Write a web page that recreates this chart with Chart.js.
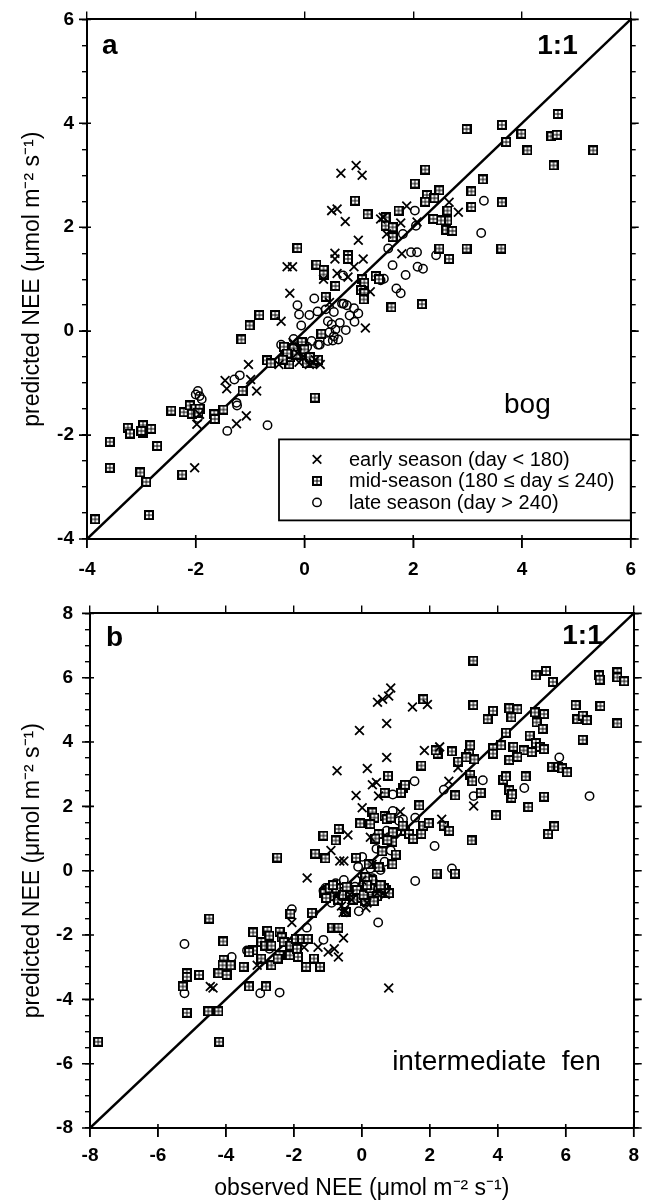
<!DOCTYPE html>
<html>
<head>
<meta charset="utf-8">
<script src="https://cdn.jsdelivr.net/npm/chart.js@4.4.1/dist/chart.umd.min.js"></script>
<style>
  body { margin: 0; background: #fff; width: 646px; height: 1202px; overflow: hidden; }
  .panel { position: absolute; left: 0; width: 646px; }
  #wrapA { top: 0; height: 590px; }
  #wrapB { top: 590px; height: 612px; }
</style>
</head>
<body>
<div class="panel" id="wrapA"><canvas id="bogChart"></canvas></div>
<div class="panel" id="wrapB"><canvas id="fenChart"></canvas></div>
<script>
const FONT = '"Liberation Sans", Arial, Helvetica, sans-serif';

// --- data: [observed, predicted] ---
const seasonLabels = ["early season (day < 180)", "mid-season (180 \u2264 day \u2264 240)", "late season (day > 240)"];
const bogTicks = [-4, -2, 0, 2, 4, 6];
const fenTicks = [-8, -6, -4, -2, 0, 2, 4, 6, 8];

const bogEarly = [[0.67,3.04],[0.95,3.19],[1.06,3.0],[0.50,2.32],[0.60,2.35],[0.75,2.11],[0.99,1.75],[1.45,2.19],[1.40,2.16],
  [1.88,2.41],[1.77,2.08],[2.07,2.10],[2.66,2.48],[2.83,2.29],[1.51,1.87],[1.79,1.49],[0.56,1.50],[0.56,1.39],[-0.32,1.24],
  [-0.22,1.24],[0.35,1.0],[0.60,1.11],[0.91,1.24],[1.08,1.39],[-0.27,0.73],[1.21,0.76],[0.80,1.04],[0.46,0.55],[1.12,0.06],
  [-1.03,-0.64],[-0.47,-0.64],[0.29,-0.64],[0.16,-0.61],[0.09,-0.64],[-1.46,-0.95],[-1.43,-1.11],[-0.99,-0.93],[-0.88,-1.15],
  [-1.93,-1.60],[-1.98,-1.79],[-1.25,-1.78],[-1.07,-1.63],[-2.02,-2.63],[-0.43,0.19],[-0.21,-0.22],[-0.13,-0.42],[-0.02,-0.48],
  [0.2,-0.55],[-0.1,-0.6]];

const bogMid = [[4.66,4.18],[2.98,3.89],[3.63,3.97],[3.99,3.80],[3.71,3.64],[4.10,3.48],[4.54,3.75],[4.64,3.78],[5.31,3.48],
  [4.58,3.19],[2.22,3.11],[2.03,2.84],[3.28,2.92],[3.07,2.69],[3.07,2.39],[3.63,2.48],[2.25,2.62],[2.48,2.71],[2.22,2.49],
  [2.39,2.56],[2.63,2.32],[2.63,2.13],[2.51,2.13],[2.37,2.16],[2.61,1.95],[2.72,1.93],[2.48,1.59],[2.66,1.39],[2.98,1.59],
  [3.62,1.59],[1.73,2.32],[1.49,2.19],[1.49,2.03],[1.62,2.00],[1.62,1.81],[1.16,2.25],[0.93,2.51],[-0.13,1.60],[0.22,1.28],
  [0.35,1.18],[0.35,1.09],[0.80,1.46],[0.80,1.39],[0.57,0.87],[1.06,1.00],[1.10,0.93],[1.04,0.79],[1.10,0.73],[1.09,0.61],
  [0.39,0.66],[1.31,1.06],[1.37,1.00],[1.60,0.46],[2.16,0.52],[-0.83,0.31],[-0.54,0.31],[-1.01,0.11],[-1.16,-0.16],[0.31,-0.05],
  [-0.69,-0.56],[-0.62,-0.62],[-1.14,-1.15],[0.19,-1.28],[-2.45,-1.53],[-2.22,-1.56],[-2.11,-1.43],[-2.01,-1.49],[-1.93,-1.49],
  [-2.07,-1.59],[-1.95,-1.57],[-1.66,-1.60],[-1.65,-1.69],[-1.49,-1.51],[-3.25,-1.86],[-3.21,-1.97],[-2.97,-1.81],[-2.97,-1.96],
  [-2.82,-1.88],[-3.0,-1.92],[-3.58,-2.13],[-2.71,-2.21],[-3.58,-2.63],[-3.02,-2.72],[-2.91,-2.90],[-2.25,-2.76],[-2.86,-3.54],
  [-3.85,-3.62],[-0.28,-0.64],[0.09,-0.54],[-0.05,-0.21],[-0.20,-0.33],[-0.26,-0.50],[0.04,-0.62],[0.16,-0.62],[-0.38,-0.30],
  [-0.32,-0.43],[-0.15,-0.45],[0.0,-0.35],[0.1,-0.5],[-0.4,-0.55],[0.25,-0.55]];

const bogLate = [[3.30,2.51],[3.25,1.89],[2.03,2.32],[2.05,2.03],[1.81,1.87],[1.54,1.59],[1.96,1.52],[2.07,1.52],[2.42,1.46],
  [1.62,1.27],[2.08,1.24],[2.18,1.20],[1.86,1.08],[1.46,1.01],[1.40,0.98],[1.69,0.82],[1.77,0.73],[0.71,1.07],[0.18,0.63],
  [-0.13,0.50],[0.69,0.53],[0.78,0.50],[0.91,0.44],[0.99,0.34],[0.09,0.31],[0.24,0.38],[-0.10,0.32],[-0.06,0.11],[0.39,0.42],
  [0.54,0.37],[0.72,0.53],[0.43,0.19],[0.50,0.13],[0.57,0.03],[0.65,0.16],[0.76,0.02],[0.54,-0.10],[0.62,-0.16],[0.43,-0.19],
  [0.13,-0.19],[0.28,-0.26],[-0.43,-0.26],[-0.36,-0.42],[-0.28,-0.35],[-0.06,-0.29],[0.01,-0.42],[-1.29,-0.93],[-1.19,-0.85],
  [-1.25,-1.38],[-1.24,-1.43],[-1.96,-1.15],[-1.93,-1.25],[-1.89,-1.31],[-2.0,-1.22],[-1.96,-1.67],[-1.42,-1.92],[-0.68,-1.81],
  [0.92,0.18],[0.83,0.30],[0.46,-0.02],[0.52,-0.18],[0.25,-0.26],[-0.2,-0.15],[-0.15,-0.45],[0.05,-0.3]];

const fenEarly = [[0.46,5.24],[0.61,5.33],[0.79,5.43],[0.85,5.68],[1.49,5.09],[1.93,5.17],[0.73,4.58],[-0.07,4.36],[0.73,3.52],
  [1.84,3.74],[2.29,3.85],[-0.73,3.11],[0.16,3.18],[0.31,2.67],[0.43,2.74],[-0.17,2.34],[0.49,2.32],[0.01,1.96],[2.56,2.78],
  [2.83,3.20],[3.29,2.01],[2.35,1.60],[-0.41,1.11],[-0.91,0.63],[-0.65,0.30],[-0.53,0.30],[-1.61,-0.23],[0.25,1.04],[1.13,1.83],
  [-4.46,-3.60],[-4.38,-3.65],[-3.08,-2.94],[-2.06,-1.61],[-1.70,-2.38],[-1.29,-2.38],[-0.99,-2.53],[-0.81,-2.43],[-0.69,-2.68],
  [-0.54,-2.09],[0.12,-1.15],[0.15,-1.0],[-0.51,-1.20],[0.79,-3.65],[0.69,-0.74],[-0.6,-1.1],[-0.3,-0.9],[0.0,-0.3],[0.3,0.2],
  [-0.75,-0.8],[-0.35,-0.75],[0.45,-0.7],[-0.5,-1.25],[-0.55,-1.3]];

const fenMid = [[3.28,6.53],[5.12,6.07],[5.42,6.21],[5.62,5.87],[6.98,6.07],[7.0,5.94],[7.52,6.17],[7.52,6.01],[7.72,5.89],
  [3.28,5.15],[1.81,5.33],[3.70,4.71],[3.86,4.97],[4.34,5.05],[4.58,5.02],[4.40,4.77],[5.09,4.92],[5.36,4.87],[5.14,4.61],
  [5.32,4.41],[6.29,5.15],[6.34,4.71],[6.50,4.82],[6.62,4.68],[7.02,5.12],[7.52,4.58],[6.50,4.07],[4.24,4.29],[4.94,4.20],
  [5.12,3.97],[5.24,3.85],[5.36,3.78],[4.76,3.74],[5.0,3.69],[4.46,3.85],[4.34,3.44],[4.58,3.54],[4.10,3.90],[3.86,3.80],
  [3.86,3.64],[3.19,3.90],[3.16,3.64],[3.31,3.46],[3.07,3.52],[2.65,3.71],[2.23,3.64],[2.17,3.74],[1.75,3.27],[2.83,3.39],
  [5.60,3.23],[5.78,3.23],[5.90,3.18],[6.04,3.06],[3.19,2.98],[3.25,2.78],[4.16,2.83],[4.24,2.93],[4.82,2.93],[4.34,2.50],
  [4.40,2.27],[4.42,2.37],[3.50,2.42],[2.75,2.34],[5.36,2.30],[4.90,1.98],[3.95,1.72],[5.48,1.14],[5.66,1.38],[3.23,0.94],
  [0.77,2.95],[0.67,2.42],[1.21,2.58],[1.27,2.67],[1.15,2.42],[1.69,2.03],[0.31,1.81],[0.37,1.65],[-0.05,1.47],[0.25,1.45],
  [0.67,1.70],[0.73,1.60],[0.85,1.65],[0.49,1.14],[0.91,1.19],[1.27,1.24],[1.39,1.14],[1.51,0.99],[1.81,1.40],[1.97,1.48],
  [1.75,1.14],[2.41,1.40],[2.57,1.24],[-1.13,1.09],[-0.77,0.94],[-0.68,1.30],[-1.37,0.53],[-1.07,0.38],[-2.49,0.41],[-0.17,0.40],
  [2.20,-0.09],[2.74,-0.09],
  [-4.49,-1.49],[-4.08,-2.20],[-3.20,-1.92],[-2.78,-1.87],[-2.72,-2.02],[-2.42,-1.90],[-2.36,-2.07],[-2.30,-2.22],[-2.96,-2.22],
  [-2.84,-2.33],[-2.66,-2.33],[-3.20,-2.48],[-3.32,-2.53],[-2.96,-2.73],[-2.66,-2.94],[-2.42,-2.63],[-2.48,-2.73],[-2.12,-2.63],
  [-2.10,-2.33],[-1.94,-2.12],[-1.76,-2.12],[-1.59,-2.12],[-1.91,-2.43],[-1.88,-2.68],[-1.64,-2.99],[-1.41,-2.73],[-1.23,-2.99],
  [-0.87,-1.77],[-0.69,-1.77],[-0.47,-1.28],[-1.47,-1.31],[-2.10,-1.34],[-4.07,-2.77],[-4.10,-2.94],[-3.86,-2.94],[-5.15,-3.19],
  [-5.15,-3.30],[-4.79,-3.24],[-4.22,-3.19],[-3.98,-3.24],[-3.48,-2.99],[-5.27,-3.60],[-3.32,-3.60],[-2.82,-3.60],[-5.15,-4.42],
  [-4.52,-4.37],[-4.22,-4.37],[-4.20,-5.32],[-7.76,-5.32],
  [-1.0,-0.6],[-0.8,-0.7],[-0.6,-0.65],[-0.4,-0.6],[-0.2,-0.7],[0.0,-0.6],[0.2,-0.65],[0.4,-0.6],[-0.9,-0.8],[-0.5,-0.8],
  [-0.1,-0.85],[0.3,-0.75],[0.6,-0.7],[0.1,-0.95],[-0.7,-0.9],[0.05,-0.4],[0.3,-0.3],[0.5,0.1],[0.6,0.6],[0.9,0.9],[0.4,1.0],
  [0.1,-0.2],[0.7,-0.6],[-1.1,-0.7],[-0.95,-0.55],[-0.75,-0.55],[-0.55,-0.75],[-0.35,-0.7],[-0.15,-0.6],[0.05,-0.75],
  [0.25,-0.55],[0.45,-0.8],[0.65,-0.55],[0.8,-0.7],[-1.05,-0.85],[-0.25,-0.9],[0.35,-0.95],[-0.45,-0.5],[0.15,-0.45],
  [0.55,-0.45],[-0.85,-0.45],[0.9,0.2],[1.0,0.5],[0.75,0.95],[1.2,1.4],[0.2,0.2]];

const fenLate = [[5.81,3.52],[4.78,2.57],[6.70,2.32],[3.56,2.81],[3.29,2.32],[2.41,2.52],[1.55,2.78],[0.91,2.37],[0.91,1.86],
  [1.09,1.55],[1.21,1.60],[1.57,1.65],[0.73,1.24],[0.79,1.04],[0.43,0.68],[0.85,0.63],[0.67,0.28],[2.14,0.77],[2.65,0.07],
  [1.57,-0.32],[0.01,0.43],[-0.11,0.12],[0.25,0.07],[0.55,0.02],[-0.53,-0.29],[-0.77,-0.39],[-1.01,-0.59],[-1.07,-0.54],
  [0.31,-0.23],[0.37,-0.39],[-5.22,-2.28],[-5.22,-3.81],[-3.83,-2.68],[-3.38,-2.48],[-2.99,-3.81],[-2.42,-3.79],[-2.06,-1.20],
  [-1.62,-1.77],[-1.13,-2.15],[-1.43,-1.31],[-0.89,-1.0],[-0.09,-1.26],[0.48,-1.61],[-2.72,-2.43],[-1.13,-0.62],[-1.05,-0.59],
  [-0.95,-0.75],[-0.6,-0.55],[-0.2,-0.5],[0.1,-0.6],[0.5,-0.55],[0.2,-0.3]];

// square-with-cross marker used for mid-season
function makeGridSquare() {
  const c = document.createElement("canvas");
  c.width = 10; c.height = 10;
  const g = c.getContext("2d");
  g.fillStyle = "#000";
  g.fillRect(0, 0, 10, 10);
  g.fillStyle = "#fff";
  [[2, 2], [5.5, 2], [2, 5.5], [5.5, 5.5]].forEach(p => g.fillRect(p[0], p[1], 2.5, 2.5));
  return c;
}
const gridSquare = makeGridSquare();

const toXY = arr => arr.map(p => ({ x: p[0], y: p[1] }));

// major ticks cross the left/bottom frame, stick out a bit further than minor ones
const majorTickPlugin = {
  id: "majorTicks",
  afterDraw(chart, args, opts) {
    const { ctx, chartArea: a, scales } = chart;
    ctx.save();
    ctx.strokeStyle = "#000";
    ctx.lineWidth = 1.6;
    ctx.beginPath();
    opts.ticks.forEach(v => {
      const px = scales.x.getPixelForValue(v);
      ctx.moveTo(px, a.bottom - 4); ctx.lineTo(px, a.bottom + 9);
      const py = scales.y.getPixelForValue(v);
      ctx.moveTo(a.left - 8, py); ctx.lineTo(a.left + 4, py);
      ctx.moveTo(a.right, py); ctx.lineTo(a.right + 8, py);
    });
    ctx.stroke();
    ctx.restore();
  }
};

const textPlugin = {
  id: "panelText",
  afterDraw(chart, args, opts) {
    const { ctx, chartArea: a } = chart;
    ctx.save();
    ctx.fillStyle = "#000";
    ctx.textBaseline = "alphabetic";
    opts.items.forEach(t => {
      ctx.font = t.font;
      ctx.textAlign = t.align;
      const x = t.fromRight ? a.right - t.dx : a.left + t.dx;
      const y = t.fromBottom ? a.bottom - t.dy : a.top + t.dy;
      ctx.fillText(t.text, x, y);
    });
    ctx.restore();
  }
};

const legendPlugin = {
  id: "seasonLegend",
  afterDraw(chart, args, opts) {
    if (!opts.show) return;
    const { ctx, chartArea: a } = chart;
    const x0 = a.left + 192, y0 = a.top + 420, x1 = a.right, y1 = a.top + 501;
    ctx.save();
    ctx.fillStyle = "#fff";
    ctx.fillRect(x0, y0, x1 - x0, y1 - y0);
    ctx.strokeStyle = "#000";
    ctx.lineWidth = 1.8;
    ctx.strokeRect(x0, y0, x1 - x0, y1 - y0);
    ctx.font = "20px " + FONT;
    ctx.fillStyle = "#000";
    ctx.textBaseline = "middle";
    ctx.textAlign = "left";
    seasonLabels.forEach((lab, i) => {
      const sx = x0 + 38, sy = y0 + 20 + i * 21.5;
      ctx.lineWidth = 1.7;
      if (i === 0) {
        ctx.beginPath();
        ctx.moveTo(sx - 4.3, sy - 4.3); ctx.lineTo(sx + 4.3, sy + 4.3);
        ctx.moveTo(sx - 4.3, sy + 4.3); ctx.lineTo(sx + 4.3, sy - 4.3);
        ctx.stroke();
      } else if (i === 1) {
        ctx.drawImage(gridSquare, sx - 5, sy - 5);
      } else {
        ctx.lineWidth = 1.5;
        ctx.beginPath();
        ctx.arc(sx, sy, 4.2, 0, Math.PI * 2);
        ctx.stroke();
      }
      ctx.fillText(lab, x0 + 70, sy + 1);
    });
    ctx.restore();
  }
};

function buildPanel(canvasId, cfg) {
  const ctx = document.getElementById(canvasId).getContext("2d");
  const lo = cfg.ticks[0], hi = cfg.ticks[cfg.ticks.length - 1];
  const isMajor = v => cfg.ticks.some(t => Math.abs(t - v) < 1e-6);
  const tickFont = { family: FONT, size: 19, weight: "bold" };
  const grid = len => ({ drawOnChartArea: false, color: "#000", lineWidth: 1.4, tickLength: len });
  const border = { color: "#000", width: 2 };
  const blank = { autoSkip: false, callback: () => "", font: { size: 1 }, padding: 0 };

  return new Chart(ctx, {
    type: "scatter",
    data: {
      datasets: [
        { label: seasonLabels[0], data: toXY(cfg.early), pointStyle: "crossRot", radius: 6.2,
          borderColor: "#000", borderWidth: 1.8, backgroundColor: "#000" },
        { label: seasonLabels[1], data: toXY(cfg.mid), pointStyle: gridSquare, radius: 5 },
        { label: seasonLabels[2], data: toXY(cfg.late), pointStyle: "circle", radius: 4.2,
          borderColor: "#000", borderWidth: 1.5, backgroundColor: "rgba(0,0,0,0)" },
        { label: "1:1", type: "line", data: [{ x: lo, y: lo }, { x: hi, y: hi }], showLine: true,
          borderColor: "#000", borderWidth: 2.5, pointRadius: 0, fill: false }
      ]
    },
    options: {
      responsive: true,
      maintainAspectRatio: false,
      animation: false,
      events: [],
      layout: { padding: 0 },
      plugins: {
        legend: { display: false },
        tooltip: { enabled: false },
        majorTicks: { ticks: cfg.ticks },
        panelText: { items: cfg.texts },
        seasonLegend: { show: cfg.legend }
      },
      scales: {
        x: {
          type: "linear", position: "bottom", min: lo, max: hi, border,
          grid: grid(9),
          ticks: { stepSize: 2, autoSkip: false, maxRotation: 0, color: "#000", font: tickFont,
                   padding: cfg.xPad, callback: v => String(v) },
          title: cfg.xTitle
            ? { display: true, text: cfg.xTitle, color: "#000", font: { family: FONT, size: 23 }, padding: { top: 0, bottom: 0 } }
            : { display: false },
          afterFit: s => { s.height = cfg.bottomH; }
        },
        xTop: {
          type: "linear", position: "top", min: lo, max: hi, border,
          grid: grid(8),
          ticks: Object.assign({ stepSize: 2 }, blank),
          afterFit: s => { s.height = cfg.topH; }
        },
        y: {
          type: "linear", position: "left", min: lo, max: hi, border,
          grid: grid(5),
          ticks: { stepSize: 0.5, autoSkip: false, color: "#000", font: tickFont, padding: cfg.yPad,
                   callback: v => (isMajor(v) ? String(v) : "") },
          title: { display: true, text: "predicted NEE (\u03bcmol m\u207b\u00b2 s\u207b\u00b9)", color: "#000",
                   font: { family: FONT, size: 23 }, padding: { top: cfg.yTitlePad, bottom: 0 } },
          afterFit: s => { s.width = cfg.leftW; }
        },
        yRight: {
          type: "linear", position: "right", min: lo, max: hi, border,
          grid: grid(5),
          ticks: Object.assign({ stepSize: 0.5 }, blank),
          afterFit: s => { s.width = cfg.rightW; }
        }
      }
    },
    plugins: [majorTickPlugin, textPlugin, legendPlugin]
  });
}

buildPanel("bogChart", {
  ticks: bogTicks, early: bogEarly, mid: bogMid, late: bogLate,
  leftW: 87, rightW: 9, topH: 18, bottomH: 51, xPad: 10, yPad: 8, yTitlePad: 19,
  legend: true, xTitle: null,
  texts: [
    { text: "a", font: "bold 28px " + FONT, align: "left", dx: 15, dy: 35 },
    { text: "1:1", font: "bold 28px " + FONT, align: "right", fromRight: true, dx: 53, dy: 35 },
    { text: "bog", font: "28px " + FONT, align: "left", dx: 417, dy: 394 }
  ]
});

buildPanel("fenChart", {
  ticks: fenTicks, early: fenEarly, mid: fenMid, late: fenLate,
  leftW: 90, rightW: 8, topH: 14, bottomH: 74, xPad: 7, yPad: 12, yTitlePad: 19,
  legend: false, xTitle: "observed NEE (\u03bcmol m\u207b\u00b2 s\u207b\u00b9)",
  texts: [
    { text: "b", font: "bold 28px " + FONT, align: "left", dx: 16, dy: 33 },
    { text: "1:1", font: "bold 28px " + FONT, align: "right", fromRight: true, dx: 31, dy: 31 },
    { text: "intermediate  fen", font: "28px " + FONT, align: "right", fromRight: true, dx: 33, fromBottom: true, dy: 58 }
  ]
});
</script>
</body>
</html>
